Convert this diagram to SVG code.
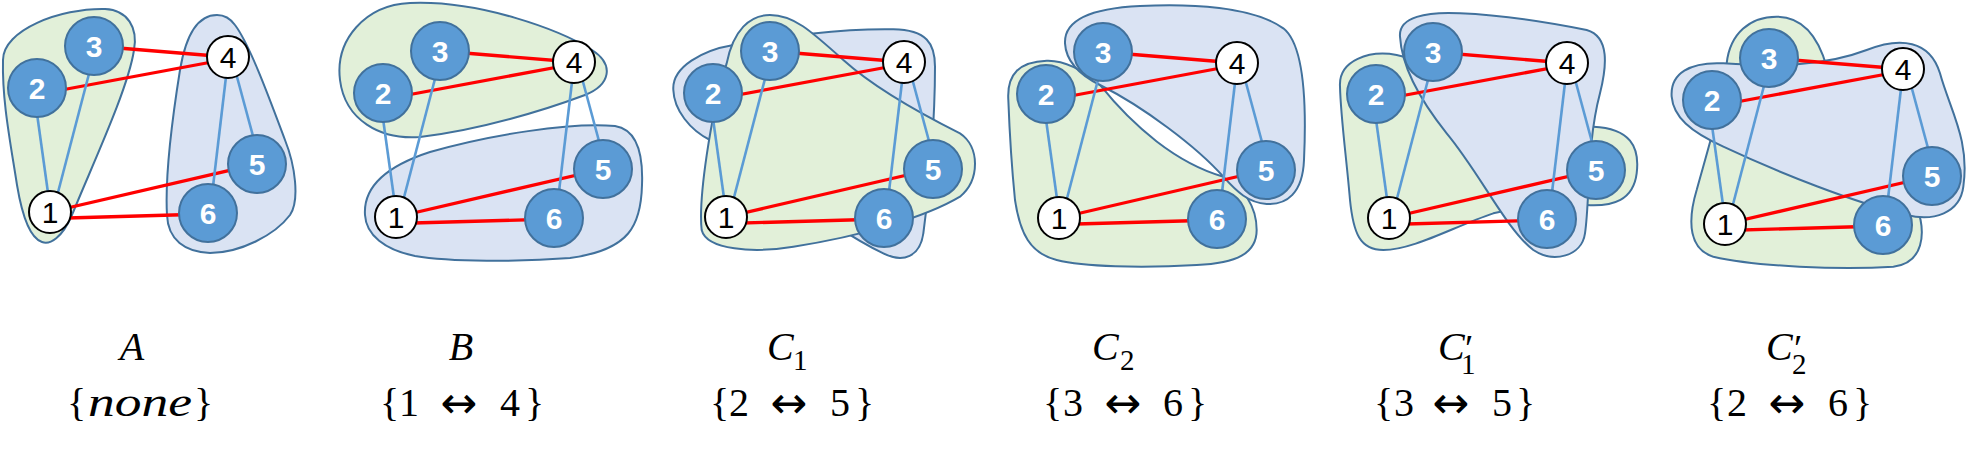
<svg xmlns="http://www.w3.org/2000/svg" width="1972" height="457" viewBox="0 0 1972 457">
<style>
.g{fill:#E2F0D9;stroke:#41719C;stroke-width:2;vector-effect:non-scaling-stroke}
.u{fill:#DAE3F3;stroke:#41719C;stroke-width:2;vector-effect:non-scaling-stroke}
.r{stroke:#FF0000;stroke-width:3.3;fill:none}
.b{stroke:#5B9BD5;stroke-width:2.6;fill:none}
.nb circle{fill:#5B9BD5;stroke:#41719C;stroke-width:2}
.nw circle{fill:#FFFFFF;stroke:#000000;stroke-width:2}
.nb text{fill:#FFFFFF;font-family:"Liberation Sans",Arial,sans-serif;font-weight:bold;font-size:30px;text-anchor:middle}
.nw text{fill:#000000;font-family:"Liberation Sans",Arial,sans-serif;font-size:30px;text-anchor:middle}
.lab{font-family:"Liberation Serif","Times New Roman",serif;font-size:40px;fill:#000}
.it{font-style:italic}
.sub{font-size:29px;font-style:normal}
.pr{font-size:38px;font-style:normal}
.arr{font-family:"DejaVu Sans",sans-serif;font-size:44px;fill:#000;text-anchor:middle}
</style>
<rect width="1972" height="457" fill="#FFFFFF"/>

<!-- Panel A -->
<g id="panel-A">
 <g id="A-blobs">
  <path class="g" d="M 3,60 C 3,30 60,8 105,9 C 128,10 138,28 134,50 C 128,90 90,170 72,215 C 62,238 50,245 42,242 C 30,238 22,215 17,185 C 10,140 2,100 3,60 Z"/>
  <path class="u" d="M 217,15 C 195,15 185,40 180,70 C 172,120 165,180 167,215 C 168,240 185,252 210,253 C 240,253 275,235 290,215 C 300,200 295,165 285,140 C 270,100 250,45 235,25 C 230,18 223,15 217,15 Z"/>
 </g>
 <g transform="translate(0,0)">
  <g id="A-edges">
   <line class="r" x1="94" y1="46" x2="228" y2="57"/>
   <line class="r" x1="40" y1="94" x2="228" y2="59"/>
   <line class="r" x1="50" y1="212" x2="257" y2="164"/>
   <line class="r" x1="50" y1="218.5" x2="208" y2="214"/>
   <line class="b" x1="36.5" y1="110" x2="49" y2="200"/>
   <line class="b" x1="90" y1="70" x2="56" y2="200"/>
   <line class="b" x1="227.4" y1="65" x2="212" y2="195"/>
   <line class="b" x1="234.6" y1="68" x2="255.4" y2="145"/>
  </g>
  <g id="A-n1" class="nw"><circle cx="50" cy="212" r="21"/><text x="50" y="223">1</text></g>
  <g id="A-n2" class="nb"><circle cx="37" cy="88" r="29"/><text x="37" y="99">2</text></g>
  <g id="A-n3" class="nb"><circle cx="94" cy="46" r="29"/><text x="94" y="57">3</text></g>
  <g id="A-n4" class="nw"><circle cx="228" cy="57" r="21"/><text x="228" y="68">4</text></g>
  <g id="A-n5" class="nb"><circle cx="257" cy="164" r="29"/><text x="257" y="175">5</text></g>
  <g id="A-n6" class="nb"><circle cx="208" cy="213" r="29"/><text x="208" y="224">6</text></g>
 </g>
</g>

<!-- Panel B -->
<g id="panel-B">
 <g id="B-blobs" transform="translate(330,0)">
  <path class="g" d="M 10,80 C 5,40 35,5 80,3 C 150,0 230,30 262,50 C 285,65 280,85 255,95 C 215,110 150,130 90,137 C 50,140 15,120 10,80 Z"/>
  <path class="u" d="M 35,215 C 33,185 60,165 100,152 C 160,135 240,122 285,126 C 310,130 313,160 312,185 C 311,225 300,250 240,258 C 190,262 120,262 85,256 C 55,250 36,235 35,215 Z"/>
 </g>
 <g transform="translate(346,5)">
  <g id="B-edges">
   <line class="r" x1="94" y1="46" x2="228" y2="57"/>
   <line class="r" x1="40" y1="94" x2="228" y2="59"/>
   <line class="r" x1="50" y1="212" x2="257" y2="164"/>
   <line class="r" x1="50" y1="218.5" x2="208" y2="214"/>
   <line class="b" x1="36.5" y1="110" x2="49" y2="200"/>
   <line class="b" x1="90" y1="70" x2="56" y2="200"/>
   <line class="b" x1="227.4" y1="65" x2="212" y2="195"/>
   <line class="b" x1="234.6" y1="68" x2="255.4" y2="145"/>
  </g>
  <g id="B-n1" class="nw"><circle cx="50" cy="212" r="21"/><text x="50" y="223">1</text></g>
  <g id="B-n2" class="nb"><circle cx="37" cy="88" r="29"/><text x="37" y="99">2</text></g>
  <g id="B-n3" class="nb"><circle cx="94" cy="46" r="29"/><text x="94" y="57">3</text></g>
  <g id="B-n4" class="nw"><circle cx="228" cy="57" r="21"/><text x="228" y="68">4</text></g>
  <g id="B-n5" class="nb"><circle cx="257" cy="164" r="29"/><text x="257" y="175">5</text></g>
  <g id="B-n6" class="nb"><circle cx="208" cy="213" r="29"/><text x="208" y="224">6</text></g>
 </g>
</g>

<!-- Panel C1 -->
<g id="panel-C1">
 <g id="C1-blobs" transform="translate(660,0) scale(0.33333)">
  <path class="u" d="M 40,270 C 35,200 130,150 220,135 C 350,110 550,85 700,88 C 800,90 825,130 825,200 C 825,350 810,550 790,700 C 780,770 730,790 670,760 C 500,680 300,500 150,420 C 90,390 42,330 40,270 Z"/>
  <path class="g" d="M 200,190 C 220,90 270,45 330,45 C 400,45 450,90 550,180 C 650,270 800,350 900,400 C 960,440 960,540 900,590 C 800,650 600,710 400,740 C 280,760 140,750 125,690 C 115,600 150,350 200,190 Z"/>
 </g>
 <g transform="translate(676,5)">
  <g id="C1-edges">
   <line class="r" x1="94" y1="46" x2="228" y2="57"/>
   <line class="r" x1="40" y1="94" x2="228" y2="59"/>
   <line class="r" x1="50" y1="212" x2="257" y2="164"/>
   <line class="r" x1="50" y1="218.5" x2="208" y2="214"/>
   <line class="b" x1="36.5" y1="110" x2="49" y2="200"/>
   <line class="b" x1="90" y1="70" x2="56" y2="200"/>
   <line class="b" x1="227.4" y1="65" x2="212" y2="195"/>
   <line class="b" x1="234.6" y1="68" x2="255.4" y2="145"/>
  </g>
  <g id="C1-n1" class="nw"><circle cx="50" cy="212" r="21"/><text x="50" y="223">1</text></g>
  <g id="C1-n2" class="nb"><circle cx="37" cy="88" r="29"/><text x="37" y="99">2</text></g>
  <g id="C1-n3" class="nb"><circle cx="94" cy="46" r="29"/><text x="94" y="57">3</text></g>
  <g id="C1-n4" class="nw"><circle cx="228" cy="57" r="21"/><text x="228" y="68">4</text></g>
  <g id="C1-n5" class="nb"><circle cx="257" cy="164" r="29"/><text x="257" y="175">5</text></g>
  <g id="C1-n6" class="nb"><circle cx="208" cy="213" r="29"/><text x="208" y="224">6</text></g>
 </g>
</g>

<!-- Panel C2 -->
<g id="panel-C2">
 <g id="C2-blobs" transform="translate(990,0) scale(0.33333)">
  <path class="g" d="M 55,300 C 50,220 90,185 170,182 C 230,180 290,220 330,255 C 430,380 560,490 700,530 C 760,560 800,620 800,690 C 800,760 740,790 620,795 C 450,805 280,800 200,780 C 120,760 90,700 75,600 C 65,500 58,380 55,300 Z"/>
  <path class="u" d="M 225,130 C 222,60 300,25 450,18 C 600,10 790,20 880,85 C 950,140 948,350 942,480 C 938,580 890,615 830,612 C 775,608 740,575 700,530 C 620,440 460,320 330,255 C 270,225 228,185 225,130 Z"/>
 </g>
 <g transform="translate(1009,6)">
  <g id="C2-edges">
   <line class="r" x1="94" y1="46" x2="228" y2="57"/>
   <line class="r" x1="40" y1="94" x2="228" y2="59"/>
   <line class="r" x1="50" y1="212" x2="257" y2="164"/>
   <line class="r" x1="50" y1="218.5" x2="208" y2="214"/>
   <line class="b" x1="36.5" y1="110" x2="49" y2="200"/>
   <line class="b" x1="90" y1="70" x2="56" y2="200"/>
   <line class="b" x1="227.4" y1="65" x2="212" y2="195"/>
   <line class="b" x1="234.6" y1="68" x2="255.4" y2="145"/>
  </g>
  <g id="C2-n1" class="nw"><circle cx="50" cy="212" r="21"/><text x="50" y="223">1</text></g>
  <g id="C2-n2" class="nb"><circle cx="37" cy="88" r="29"/><text x="37" y="99">2</text></g>
  <g id="C2-n3" class="nb"><circle cx="94" cy="46" r="29"/><text x="94" y="57">3</text></g>
  <g id="C2-n4" class="nw"><circle cx="228" cy="57" r="21"/><text x="228" y="68">4</text></g>
  <g id="C2-n5" class="nb"><circle cx="257" cy="164" r="29"/><text x="257" y="175">5</text></g>
  <g id="C2-n6" class="nb"><circle cx="208" cy="213" r="29"/><text x="208" y="224">6</text></g>
 </g>
</g>

<!-- Panel C1' -->
<g id="panel-C1p">
 <g id="C1p-blobs" transform="translate(1320,0) scale(0.33333)">
  <path class="g" d="M 60,260 C 55,180 150,150 230,165 C 400,200 600,370 820,380 C 930,385 960,440 950,520 C 940,600 880,620 800,615 C 700,610 600,620 520,640 C 400,680 280,750 190,750 C 120,750 100,700 90,600 C 80,480 62,350 60,260 Z"/>
  <path class="u" d="M 240,110 C 235,50 320,35 420,40 C 550,45 700,70 800,90 C 870,110 860,200 840,280 C 800,430 810,600 795,700 C 785,770 700,790 640,750 C 560,690 480,520 380,400 C 300,300 245,200 240,110 Z"/>
 </g>
 <g transform="translate(1339,6)">
  <g id="C1p-edges">
   <line class="r" x1="94" y1="46" x2="228" y2="57"/>
   <line class="r" x1="40" y1="94" x2="228" y2="59"/>
   <line class="r" x1="50" y1="212" x2="257" y2="164"/>
   <line class="r" x1="50" y1="218.5" x2="208" y2="214"/>
   <line class="b" x1="36.5" y1="110" x2="49" y2="200"/>
   <line class="b" x1="90" y1="70" x2="56" y2="200"/>
   <line class="b" x1="227.4" y1="65" x2="212" y2="195"/>
   <line class="b" x1="234.6" y1="68" x2="255.4" y2="145"/>
  </g>
  <g id="C1p-n1" class="nw"><circle cx="50" cy="212" r="21"/><text x="50" y="223">1</text></g>
  <g id="C1p-n2" class="nb"><circle cx="37" cy="88" r="29"/><text x="37" y="99">2</text></g>
  <g id="C1p-n3" class="nb"><circle cx="94" cy="46" r="29"/><text x="94" y="57">3</text></g>
  <g id="C1p-n4" class="nw"><circle cx="228" cy="57" r="21"/><text x="228" y="68">4</text></g>
  <g id="C1p-n5" class="nb"><circle cx="257" cy="164" r="29"/><text x="257" y="175">5</text></g>
  <g id="C1p-n6" class="nb"><circle cx="208" cy="213" r="29"/><text x="208" y="224">6</text></g>
 </g>
</g>

<!-- Panel C2' -->
<g id="panel-C2p">
 <g id="C2p-blobs" transform="translate(1640,0) scale(0.33333)">
  <path class="g" d="M 260,190 C 270,100 330,50 410,50 C 500,50 540,130 560,200 C 620,350 780,500 830,620 C 860,700 850,790 760,800 C 600,810 350,800 220,770 C 150,750 140,670 170,570 C 200,460 250,300 260,190 Z"/>
  <path class="u" d="M 95,290 C 90,220 150,185 250,190 C 400,200 550,200 680,150 C 780,110 870,120 900,220 C 930,330 990,420 970,560 C 960,640 880,665 800,645 C 650,610 420,520 250,440 C 150,395 100,350 95,290 Z"/>
 </g>
 <g transform="translate(1675,12)">
  <g id="C2p-edges">
   <line class="r" x1="94" y1="46" x2="228" y2="57"/>
   <line class="r" x1="40" y1="94" x2="228" y2="59"/>
   <line class="r" x1="50" y1="212" x2="257" y2="164"/>
   <line class="r" x1="50" y1="218.5" x2="208" y2="214"/>
   <line class="b" x1="36.5" y1="110" x2="49" y2="200"/>
   <line class="b" x1="90" y1="70" x2="56" y2="200"/>
   <line class="b" x1="227.4" y1="65" x2="212" y2="195"/>
   <line class="b" x1="234.6" y1="68" x2="255.4" y2="145"/>
  </g>
  <g id="C2p-n1" class="nw"><circle cx="50" cy="212" r="21"/><text x="50" y="223">1</text></g>
  <g id="C2p-n2" class="nb"><circle cx="37" cy="88" r="29"/><text x="37" y="99">2</text></g>
  <g id="C2p-n3" class="nb"><circle cx="94" cy="46" r="29"/><text x="94" y="57">3</text></g>
  <g id="C2p-n4" class="nw"><circle cx="228" cy="57" r="21"/><text x="228" y="68">4</text></g>
  <g id="C2p-n5" class="nb"><circle cx="257" cy="164" r="29"/><text x="257" y="175">5</text></g>
  <g id="C2p-n6" class="nb"><circle cx="208" cy="213" r="29"/><text x="208" y="224">6</text></g>
 </g>
</g>

<!-- Labels -->
<g id="labels">
 <text class="lab it" x="132" y="360" text-anchor="middle">A</text>
 <text class="lab" y="416"><tspan x="67">{</tspan><tspan class="it" x="88" textLength="104" lengthAdjust="spacingAndGlyphs">none</tspan><tspan x="194">}</tspan></text>

 <text class="lab it" x="461" y="360" text-anchor="middle">B</text>
 <text class="lab" y="416"><tspan x="380">{</tspan><tspan x="399">1</tspan></text>
 <text class="arr" x="459" y="418">↔</text>
 <text class="lab" y="416"><tspan x="500">4</tspan><tspan x="525">}</tspan></text>

 <text class="lab" y="360"><tspan class="it" x="767">C</tspan><tspan class="sub" x="793" y="370">1</tspan></text>
 <text class="lab" y="416"><tspan x="710">{</tspan><tspan x="729">2</tspan></text>
 <text class="arr" x="789" y="418">↔</text>
 <text class="lab" y="416"><tspan x="830">5</tspan><tspan x="855">}</tspan></text>

 <text class="lab" y="360"><tspan class="it" x="1092">C</tspan><tspan class="sub" x="1120" y="370">2</tspan></text>
 <text class="lab" y="416"><tspan x="1043">{</tspan><tspan x="1063">3</tspan></text>
 <text class="arr" x="1123" y="418">↔</text>
 <text class="lab" y="416"><tspan x="1163">6</tspan><tspan x="1188">}</tspan></text>

 <text class="lab" y="360"><tspan class="it" x="1438">C</tspan><tspan class="pr" x="1465" y="361">′</tspan><tspan class="sub" x="1461" y="374">1</tspan></text>
 <text class="lab" y="416"><tspan x="1374">{</tspan><tspan x="1394">3</tspan></text>
 <text class="arr" x="1451" y="418">↔</text>
 <text class="lab" y="416"><tspan x="1492">5</tspan><tspan x="1516">}</tspan></text>

 <text class="lab" y="360"><tspan class="it" x="1766">C</tspan><tspan class="pr" x="1794" y="361">′</tspan><tspan class="sub" x="1792" y="374">2</tspan></text>
 <text class="lab" y="416"><tspan x="1707">{</tspan><tspan x="1727">2</tspan></text>
 <text class="arr" x="1787" y="418">↔</text>
 <text class="lab" y="416"><tspan x="1828">6</tspan><tspan x="1853">}</tspan></text>
</g>
</svg>
